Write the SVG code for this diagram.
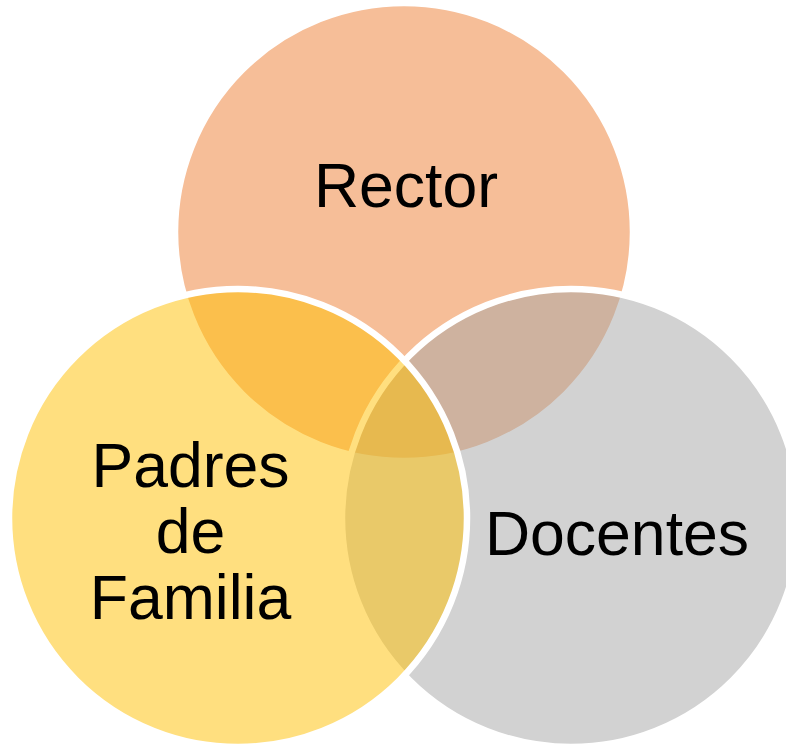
<svg xmlns="http://www.w3.org/2000/svg" width="786" height="746" viewBox="0 0 786 746">
  <style>
    .c { stroke: #FFFFFF; stroke-width: 6.5; }
    .t { font-family: "Liberation Sans", Arial, sans-serif; font-size: 62.5px; fill: #000000; text-anchor: middle; }
  </style>
  <rect width="786" height="746" fill="#FFFFFF"/>
  <g id="rector">
    <circle class="c" cx="404" cy="232" r="229" fill="#ED7D31" fill-opacity="0.5"/>
  </g>
  <g id="docentes">
    <circle class="c" cx="571" cy="518" r="229" fill="#A5A5A5" fill-opacity="0.5"/>
  </g>
  <g id="padres">
    <circle class="c" cx="238" cy="518" r="229" fill="#FFC000" fill-opacity="0.5"/>
  </g>
  <g id="labels">
    <text class="t" x="406" y="207">Rector</text>
    <text class="t" x="190.5" y="487">Padres</text>
    <text class="t" x="190.5" y="553">de</text>
    <text class="t" x="190.5" y="619">Familia</text>
    <text class="t" x="617" y="555">Docentes</text>
  </g>
  <g id="connectors"/>
</svg>
